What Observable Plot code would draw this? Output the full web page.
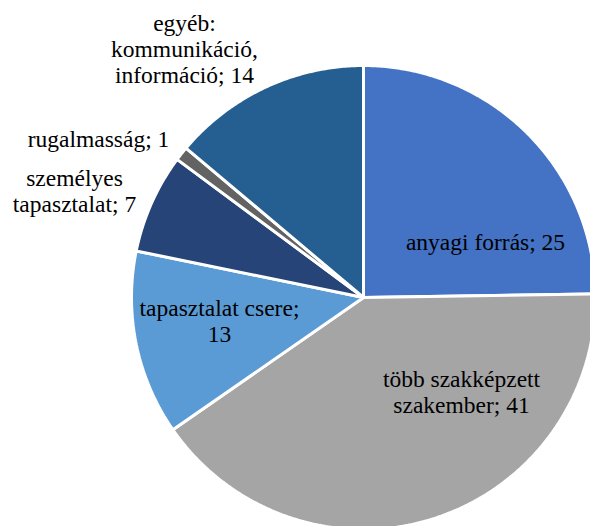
<!DOCTYPE html>
<html><head><meta charset="utf-8">
<script src="https://cdn.jsdelivr.net/npm/d3@7"></script>
<script src="https://cdn.jsdelivr.net/npm/@observablehq/plot@0.6"></script>
<style>html,body{margin:0;padding:0;background:#fff;font-family:"Times New Roman","Liberation Serif",serif}</style>
</head><body><div id="chart"></div>
<script>
// ---- data ----
const categories = ["anyagi forrás", "több szakképzett szakember", "tapasztalat csere", "személyes tapasztalat", "rugalmasság", "egyéb: kommunikáció, információ"];
const values = [25, 41, 13, 7, 1, 14];
const labelTexts = ["anyagi forrás; 25", "több szakképzett\nszakember; 41", "tapasztalat csere;\n13", "személyes\ntapasztalat; 7", "rugalmasság; 1", "egyéb:\nkommunikáció,\ninformáció; 14"];
const colors = ["#4472C4", "#A5A5A5", "#5B9BD5", "#264478", "#636363", "#255E91"];

// ---- layout (pixels) ----
const W = 590, H = 526;
const CX = 363, CY = 297, R = 232;
// label block centres in pixels
const labelPx = [[485, 241], [461, 391], [219, 320], [74, 190], [98, 138], [184, 48]];

const data = categories.map((c, i) => ({cat: c, value: values[i]}));
const arcs = d3.pie().sort(null).value(d => d.value)(data);

const pts = [];
arcs.forEach(a => {
  const cat = a.data.cat;
  pts.push({cat, x: 0, y: 0});
  const n = Math.max(2, Math.ceil((a.endAngle - a.startAngle) / (Math.PI / 360)));
  for (let k = 0; k <= n; k++) {
    const t = a.startAngle + (a.endAngle - a.startAngle) * k / n;
    pts.push({cat, x: Math.sin(t), y: Math.cos(t)});
  }
  pts.push({cat, x: 0, y: 0});
});

const labels = categories.map((c, i) => ({
  text: labelTexts[i],
  x: (labelPx[i][0] - CX) / R,
  y: (CY - labelPx[i][1]) / R
}));

const serif = "Times New Roman";
const chart = Plot.plot({
  width: W, height: H,
  margin: 0,
  x: {domain: [(0 - CX) / R, (W - CX) / R], range: [0, W], axis: null},
  y: {domain: [(CY - H) / R, CY / R], range: [H, 0], axis: null},
  color: {domain: categories, range: colors},
  style: {background: "#fff", fontFamily: "Times New Roman"},
  marks: [
    Plot.line(pts, {x: "x", y: "y", z: "cat", fill: "cat", stroke: "#fff", strokeWidth: 3, strokeLinejoin: "miter", curve: "linear"}),
    Plot.text(labels, {x: "x", y: "y", text: "text", fontSize: 23.5, fontFamily: serif, lineHeight: 1.12, lineAnchor: "middle", fill: "#000"})
  ]
});
chart.setAttribute("font-family", serif);
chart.querySelectorAll("g, text, tspan").forEach(el => {
  if (el.tagName.toLowerCase() !== "g" || el.getAttribute("font-family")) el.setAttribute("font-family", serif);
});
document.getElementById("chart").appendChild(chart);
</script>
</body></html>
